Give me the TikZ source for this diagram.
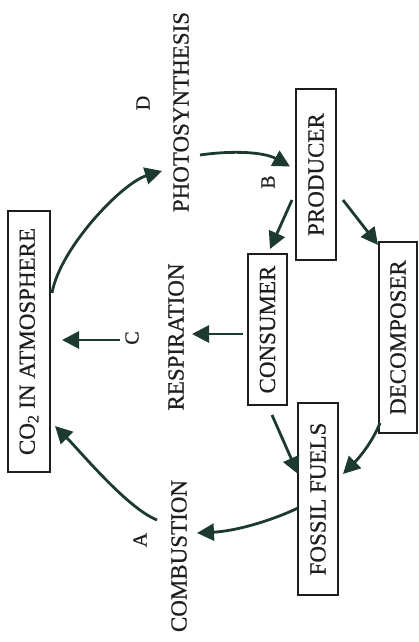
\documentclass[tikz,border=0pt]{standalone}
\usepackage{fontspec}
\setmainfont{Liberation Serif}[FakeBold=0.5]
\usepackage{graphicx}
\usetikzlibrary{arrows.meta,calc}

\definecolor{arrowc}{HTML}{1D3A31}
\definecolor{inkc}{HTML}{1E1E1E}

% text set vertically, reading upwards
\newcommand{\uprot}[1]{\rotatebox{90}{#1}}

\tikzset{
  box/.style={draw=inkc, line width=1.4pt, inner sep=0pt, text=inkc,
              font=\fontsize{23}{25}\selectfont},
  lbl/.style={inner sep=0pt, text=inkc, font=\fontsize{23}{25}\selectfont},
  tag/.style={inner sep=0pt, text=inkc, font=\fontsize{20}{22}\selectfont},
  flow/.style={draw=arrowc, line width=2.8pt,
               -{Triangle[length=17pt,width=17pt]}}
}

\begin{document}
\begin{tikzpicture}[x=1pt,y=-1pt]
\useasboundingbox[fill=white] (0,0) rectangle (418,642);

% compartments
\node[box, minimum width=42, minimum height=261] (co2)  at (29,341.5)  {\uprot{CO\textsubscript{2} IN ATMOSPHERE}};
\node[box, minimum width=40, minimum height=171] (prod) at (316,174.5) {\uprot{PRODUCER}};
\node[box, minimum width=39, minimum height=151] (cons) at (267.5,329.5) {\uprot{CONSUMER}};
\node[box, minimum width=38, minimum height=191] (dec)  at (398,337.5) {\uprot{DECOMPOSER}};
\node[box, minimum width=40, minimum height=192] (foss) at (318,499)   {\uprot{FOSSIL FUELS}};

% processes
\node[lbl] (photo) at (181,112) {\uprot{PHOTOSYNTHESIS}};
\node[lbl] (resp)  at (176,337) {\uprot{RESPIRATION}};
\node[lbl] (comb)  at (179,556) {\uprot{COMBUSTION}};

% step letters
\node[tag] (lA) at (140,540) {\uprot{A}};
\node[tag] (lB) at (268,182) {\uprot{B}};
\node[tag] (lC) at (132,338) {\uprot{C}};
\node[tag] (lD) at (143,103) {\uprot{D}};

% flows of carbon
\draw[flow] ($(co2)+(23,-48.5)$) .. controls +(8,-45) and +(-40,12) .. ($(photo)+(-19,59)$);
\draw[flow] ($(photo)+(19,43)$) .. controls +(35,-5) and +(-25,-14) .. ($(prod)+(-26,-8)$);
\draw[flow] ($(prod)+(-24,25.5)$) -- ($(cons)+(2.5,-80.5)$);
\draw[flow] ($(prod)+(27,25.5)$) -- ($(dec)+(-20,-92.5)$);
\draw[flow] ($(cons)+(-24.5,4.5)$) -- ($(resp)+(16,-3)$);
\draw[flow] ($(lC)+(-12,2)$) -- ($(co2)+(33,-1.5)$);
\draw[flow] ($(cons)+(4.5,85.5)$) -- ($(foss)+(-20,-25)$);
\draw[flow] ($(dec)+(-18,85.5)$) .. controls +(-8,20) and +(15,-15) .. ($(foss)+(25,-25)$);
\draw[flow] ($(foss)+(-20,9)$) .. controls +(-25,12) and +(40,-2) .. ($(comb)+(18,-23)$);
\draw[flow] ($(comb)+(-22,-36)$) .. controls +(-30,-12) and +(25,25) .. ($(co2)+(26,84.5)$);
\end{tikzpicture}
\end{document}
